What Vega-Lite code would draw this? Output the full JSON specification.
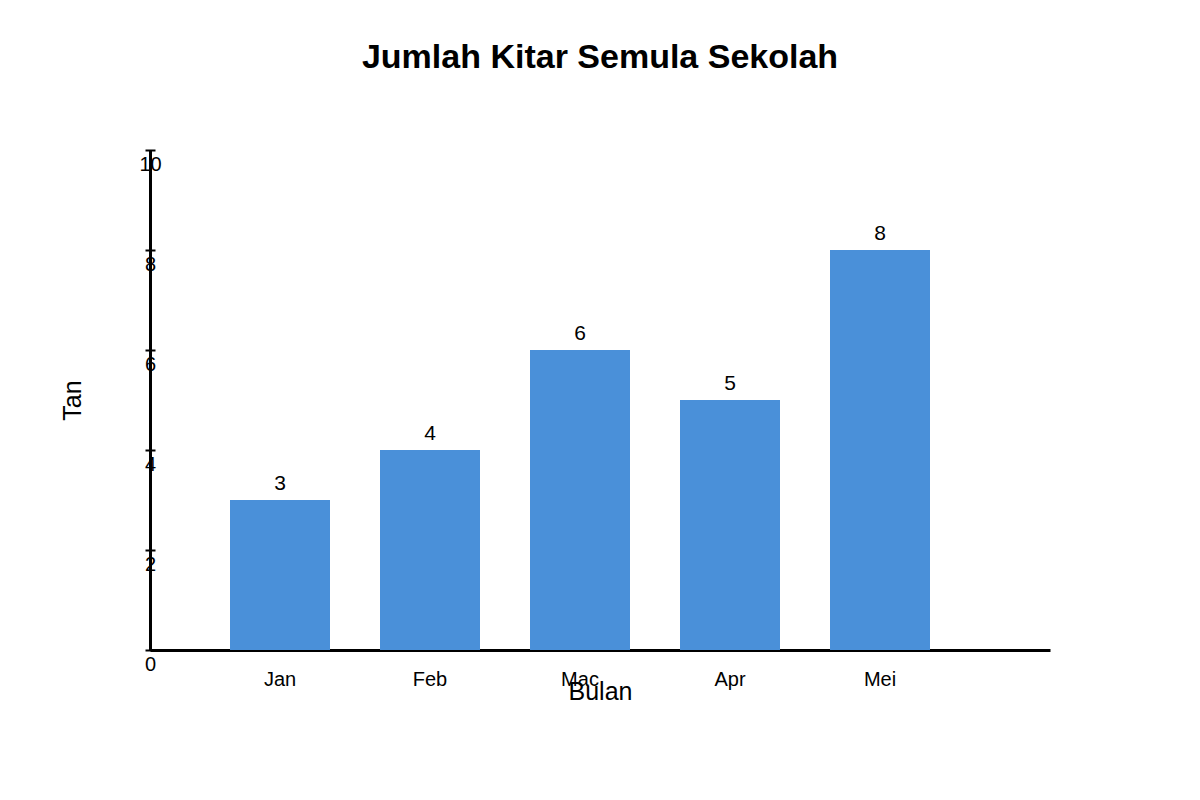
{
  "$schema": "https://vega.github.io/schema/vega-lite/v6.json",
  "autosize": {"type": "none"},
  "padding": {"left": 150, "top": 150, "right": 150, "bottom": 150},
  "width": 900,
  "height": 500,
  "background": "white",
  "title": {
    "text": "Jumlah Kitar Semula Sekolah",
    "font": "Liberation Sans",
    "fontSize": 34,
    "fontWeight": "bold",
    "color": "black",
    "anchor": "middle",
    "frame": "group",
    "baseline": "alphabetic",
    "offset": 47
  },
  "data": {
    "values": [
      {"bulan": "Jan", "tan": 3},
      {"bulan": "Feb", "tan": 4},
      {"bulan": "Mac", "tan": 6},
      {"bulan": "Apr", "tan": 5},
      {"bulan": "Mei", "tan": 8}
    ]
  },
  "encoding": {
    "x": {
      "field": "bulan",
      "type": "nominal",
      "sort": null,
      "scale": {"paddingInner": 0.3333333, "paddingOuter": 0.6666667, "align": 0.4},
      "axis": {
        "title": "Bulan",
        "titleFont": "Liberation Sans",
        "titleFontSize": 25,
        "titleFontWeight": "normal",
        "titleColor": "black",
        "titleX": 450,
        "titleY": 49,
        "titleAlign": "center",
        "titleBaseline": "alphabetic",
        "labelAngle": 0,
        "labelFont": "Liberation Sans",
        "labelFontSize": 20,
        "labelColor": "black",
        "labelBaseline": "alphabetic",
        "labelPadding": 35,
        "ticks": false,
        "tickSize": 0,
        "domain": true,
        "domainColor": "black",
        "domainWidth": 3,
        "grid": false
      }
    }
  },
  "layer": [
    {
      "mark": {"type": "bar", "color": "#4A90D9"},
      "encoding": {
        "y": {
          "field": "tan",
          "type": "quantitative",
          "scale": {"domain": [0, 10], "nice": false},
          "axis": {
            "orient": "left",
            "values": [0, 2, 4, 6, 8, 10],
            "title": "Tan",
            "titleFont": "Liberation Sans",
            "titleFontSize": 25,
            "titleFontWeight": "normal",
            "titleColor": "black",
            "titleAngle": -90,
            "titleX": -78,
            "titleY": 250,
            "titleAlign": "center",
            "titleBaseline": "middle",
            "labelFont": "Liberation Sans",
            "labelFontSize": 20,
            "labelColor": "black",
            "labelAlign": "center",
            "labelBaseline": "alphabetic",
            "labelPadding": 0,
            "labelOffset": 20,
            "ticks": false,
            "tickSize": 0,
            "domain": true,
            "domainColor": "black",
            "domainWidth": 3,
            "grid": false
          }
        }
      }
    },
    {
      "mark": {"type": "text", "font": "Liberation Sans", "fontSize": 21, "color": "black", "baseline": "alphabetic", "dy": -10},
      "encoding": {
        "y": {
          "field": "tan",
          "type": "quantitative",
          "scale": {"domain": [0, 10], "nice": false},
          "axis": {
            "orient": "left",
            "values": [0, 2, 4, 6, 8, 10],
            "title": null,
            "offset": -5,
            "ticks": true,
            "tickSize": 10,
            "tickWidth": 2,
            "tickColor": "black",
            "labels": false,
            "domain": false,
            "grid": false
          }
        },
        "text": {"field": "tan", "type": "quantitative"}
      }
    }
  ],
  "resolve": {"axis": {"y": "independent"}},
  "config": {
    "view": {"stroke": null},
    "font": "Liberation Sans"
  }
}
